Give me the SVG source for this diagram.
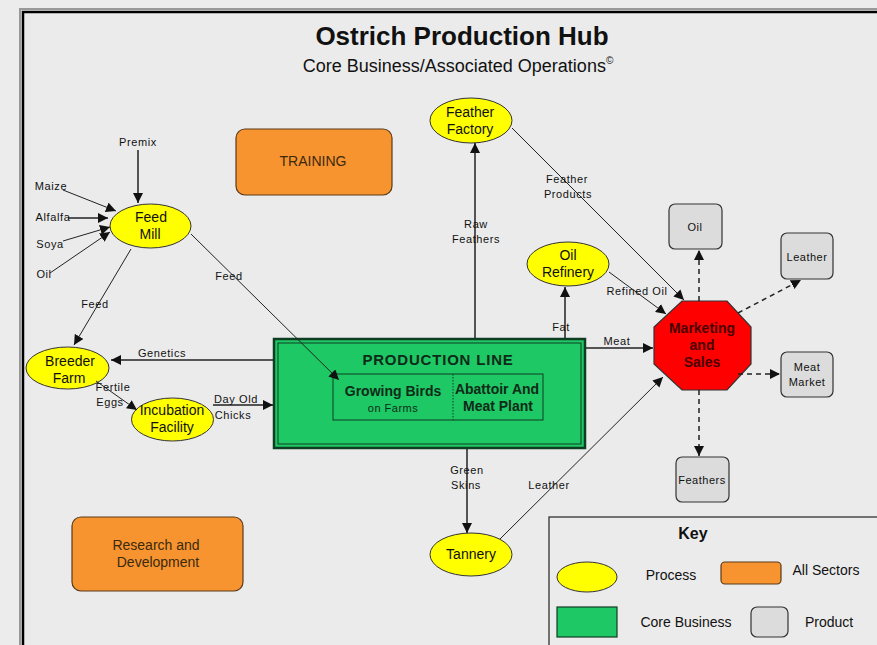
<svg xmlns="http://www.w3.org/2000/svg" width="877" height="645" viewBox="0 0 877 645">
<style>
  text { font-family: "Liberation Sans", Arial, sans-serif; fill: #111; }
  .proc { fill: #ffff00; stroke: #333; stroke-width: 1; }
  .sector { fill: #f7942f; stroke: #5a3a1a; stroke-width: 1.2; }
  .prod { fill: #dcdcdc; stroke: #333; stroke-width: 1.2; }
  .node { font-size: 14px; text-anchor: middle; }
  .lbl { font-size: 11px; letter-spacing: 0.6px; text-anchor: middle; }
  .small { font-size: 11px; letter-spacing: 0.5px; text-anchor: middle; }
  .ln { stroke: #222; stroke-width: 1; fill: none; }
  .ln2 { stroke: #222; stroke-width: 1.5; fill: none; }
  .dash { stroke: #222; stroke-width: 1.5; fill: none; stroke-dasharray: 5 4; }
</style>
<defs>
  <marker id="ah" viewBox="0 0 10 10" refX="10" refY="5" markerWidth="10" markerHeight="10" markerUnits="userSpaceOnUse" orient="auto">
    <path d="M0,0 L10,5 L0,10 z" fill="#111"/>
  </marker>
</defs>

<!-- page and frame -->
<rect x="0" y="0" width="877" height="645" fill="#ececec"/>
<rect x="20" y="9" width="880" height="660" fill="#ebebeb" stroke="#999" stroke-width="2"/>
<rect x="23" y="12" width="880" height="660" fill="none" stroke="#000" stroke-width="2.5"/>

<!-- title -->
<text x="462" y="45" font-size="26" font-weight="bold" text-anchor="middle">Ostrich Production Hub</text>
<text x="458" y="72" font-size="18" text-anchor="middle">Core Business/Associated Operations<tspan font-size="10" dy="-8">©</tspan></text>

<!-- sector boxes -->
<g id="training">
  <rect class="sector" x="236" y="129" width="156" height="66" rx="9"/>
  <text class="node" x="313" y="166" style="fill:#3a2a10">TRAINING</text>
</g>
<g id="research">
  <rect class="sector" x="72" y="517" width="171" height="74" rx="9"/>
  <text class="node" x="156" y="550" style="fill:#3a2a10">Research and</text>
  <text class="node" x="158" y="567" style="fill:#3a2a10">Development</text>
</g>

<!-- process nodes -->
<g id="feed-mill">
  <ellipse class="proc" cx="150.5" cy="226" rx="40.5" ry="22"/>
  <text class="node" x="151" y="222">Feed</text>
  <text class="node" x="150" y="239">Mill</text>
</g>
<g id="breeder-farm">
  <ellipse class="proc" cx="67.5" cy="368" rx="41.5" ry="21"/>
  <text class="node" x="70" y="366">Breeder</text>
  <text class="node" x="69" y="383">Farm</text>
</g>
<g id="incubation">
  <ellipse class="proc" cx="172.5" cy="419.5" rx="41" ry="21.5"/>
  <text class="node" x="172" y="415">Incubation</text>
  <text class="node" x="172" y="432">Facility</text>
</g>
<g id="feather-factory">
  <ellipse class="proc" cx="471" cy="120.5" rx="41" ry="22.5"/>
  <text class="node" x="470" y="117">Feather</text>
  <text class="node" x="470" y="134">Factory</text>
</g>
<g id="oil-refinery">
  <ellipse class="proc" cx="568" cy="264" rx="41" ry="22"/>
  <text class="node" x="568" y="260">Oil</text>
  <text class="node" x="568" y="277">Refinery</text>
</g>
<g id="tannery">
  <ellipse class="proc" cx="471" cy="554.5" rx="41" ry="21.5"/>
  <text class="node" x="471" y="559">Tannery</text>
</g>

<!-- core business -->
<g id="production-line">
  <rect x="274" y="339" width="311" height="109" fill="#1ec864" stroke="#0f3d22" stroke-width="2.5"/>
  <rect x="278" y="343" width="303" height="101" fill="none" stroke="#0f3d22" stroke-width="1"/>
  <text x="438" y="365" font-size="15" font-weight="bold" letter-spacing="0.8" text-anchor="middle" style="fill:#0e2a18">PRODUCTION LINE</text>
  <rect x="333" y="374" width="210" height="46" fill="none" stroke="#0f3d22" stroke-width="1"/>
  <line x1="453" y1="374" x2="453" y2="420" stroke="#0f3d22" stroke-width="1" stroke-dasharray="1.5 1.5"/>
  <text x="393" y="396" font-size="14" font-weight="bold" text-anchor="middle" style="fill:#0e2a18">Growing Birds</text>
  <text x="393" y="412" font-size="11" letter-spacing="0.5" text-anchor="middle" style="fill:#0e2a18">on Farms</text>
  <text x="497" y="394" font-size="14" font-weight="bold" text-anchor="middle" style="fill:#0e2a18">Abattoir And</text>
  <text x="498" y="411" font-size="14" font-weight="bold" text-anchor="middle" style="fill:#0e2a18">Meat Plant</text>
</g>

<!-- marketing -->
<g id="marketing">
  <polygon points="682,301 727,301 751,327 751,364 727,390 682,390 654,364 654,327" fill="#ff0000" stroke="#333" stroke-width="1.2"/>
  <text x="702" y="333" font-size="14" font-weight="bold" text-anchor="middle" style="fill:#4a0000">Marketing</text>
  <text x="702" y="350" font-size="14" font-weight="bold" text-anchor="middle" style="fill:#4a0000">and</text>
  <text x="702" y="367" font-size="14" font-weight="bold" text-anchor="middle" style="fill:#4a0000">Sales</text>
</g>

<!-- products -->
<g id="oil">
  <rect class="prod" x="669" y="204" width="53" height="45" rx="6"/>
  <text class="small" x="695" y="231">Oil</text>
</g>
<g id="leather">
  <rect class="prod" x="781" y="233" width="52" height="46" rx="6"/>
  <text class="small" x="807" y="261">Leather</text>
</g>
<g id="meat-market">
  <rect class="prod" x="781" y="352" width="52" height="45" rx="6"/>
  <text class="small" x="807" y="371">Meat</text>
  <text class="small" x="807" y="386">Market</text>
</g>
<g id="feathers">
  <rect class="prod" x="676" y="457" width="53" height="45" rx="6"/>
  <text class="small" x="702" y="484">Feathers</text>
</g>

<!-- connectors -->
<g id="connectors">
  <line class="ln2" x1="138" y1="150" x2="138" y2="203" marker-end="url(#ah)"/>
  <line class="ln" x1="63" y1="190" x2="116" y2="211" marker-end="url(#ah)"/>
  <line class="ln2" x1="68" y1="218" x2="108" y2="218" marker-end="url(#ah)"/>
  <line class="ln" x1="63" y1="241" x2="110" y2="227" marker-end="url(#ah)"/>
  <line class="ln" x1="50" y1="273" x2="110" y2="232" marker-end="url(#ah)"/>
  <line class="ln" x1="131" y1="249" x2="74" y2="345" marker-end="url(#ah)"/>
  <line class="ln" x1="191" y1="234" x2="339" y2="380" marker-end="url(#ah)"/>
  <line class="ln2" x1="273" y1="360" x2="111" y2="360" marker-end="url(#ah)"/>
  <line class="ln" x1="96" y1="381" x2="137" y2="410" marker-end="url(#ah)"/>
  <line class="ln2" x1="213" y1="405" x2="273" y2="405" marker-end="url(#ah)"/>
  <line class="ln2" x1="475" y1="338" x2="475" y2="143" marker-end="url(#ah)"/>
  <line class="ln" x1="512" y1="128" x2="684" y2="300" marker-end="url(#ah)"/>
  <line class="ln2" x1="565" y1="338" x2="565" y2="287" marker-end="url(#ah)"/>
  <line class="ln" x1="609" y1="272" x2="666" y2="314" marker-end="url(#ah)"/>
  <line class="ln2" x1="586" y1="348" x2="653" y2="348" marker-end="url(#ah)"/>
  <line class="ln2" x1="467" y1="449" x2="467" y2="533" marker-end="url(#ah)"/>
  <line class="ln" x1="500" y1="539" x2="663" y2="377" marker-end="url(#ah)"/>
  <line class="dash" x1="699" y1="301" x2="699" y2="250" marker-end="url(#ah)"/>
  <line class="dash" x1="738" y1="313" x2="801" y2="280" marker-end="url(#ah)"/>
  <line class="dash" x1="738" y1="374" x2="780" y2="374" marker-end="url(#ah)"/>
  <line class="dash" x1="699" y1="390" x2="699" y2="456" marker-end="url(#ah)"/>

  <!-- connector labels -->
  <text class="lbl" x="138" y="146">Premix</text>
  <text class="lbl" x="51" y="190">Maize</text>
  <text class="lbl" x="53" y="221">Alfalfa</text>
  <text class="lbl" x="50" y="248">Soya</text>
  <text class="lbl" x="44" y="278">Oil</text>
  <text class="lbl" x="95" y="308">Feed</text>
  <text class="lbl" x="229" y="280">Feed</text>
  <text class="lbl" x="162" y="357">Genetics</text>
  <text class="lbl" x="113" y="391">Fertile</text>
  <text class="lbl" x="110" y="406">Eggs</text>
  <text class="lbl" x="236" y="403">Day Old</text>
  <text class="lbl" x="233" y="419">Chicks</text>
  <text class="lbl" x="476" y="228">Raw</text>
  <text class="lbl" x="476" y="243">Feathers</text>
  <text class="lbl" x="567" y="183">Feather</text>
  <text class="lbl" x="568" y="198">Products</text>
  <text class="lbl" x="561" y="331">Fat</text>
  <text class="lbl" x="637" y="295">Refined Oil</text>
  <text class="lbl" x="617" y="345">Meat</text>
  <text class="lbl" x="467" y="474">Green</text>
  <text class="lbl" x="466" y="489">Skins</text>
  <text class="lbl" x="549" y="489">Leather</text>
</g>

<!-- key -->
<g id="key">
  <rect x="549" y="517" width="340" height="140" fill="#ebebeb" stroke="#222" stroke-width="1.2"/>
  <text x="693" y="539" font-size="16" font-weight="bold" text-anchor="middle">Key</text>
  <ellipse class="proc" cx="587" cy="577" rx="30" ry="15"/>
  <text x="671" y="580" font-size="14" text-anchor="middle">Process</text>
  <rect class="sector" x="721" y="562" width="60" height="22" rx="4"/>
  <text x="826" y="575" font-size="14" text-anchor="middle">All Sectors</text>
  <rect x="557" y="607" width="60" height="30" fill="#1ec864" stroke="#0f3d22" stroke-width="1.2"/>
  <text x="686" y="627" font-size="14" text-anchor="middle">Core Business</text>
  <rect class="prod" x="751" y="607" width="37" height="30" rx="6"/>
  <text x="829" y="627" font-size="14" text-anchor="middle">Product</text>
</g>
</svg>
